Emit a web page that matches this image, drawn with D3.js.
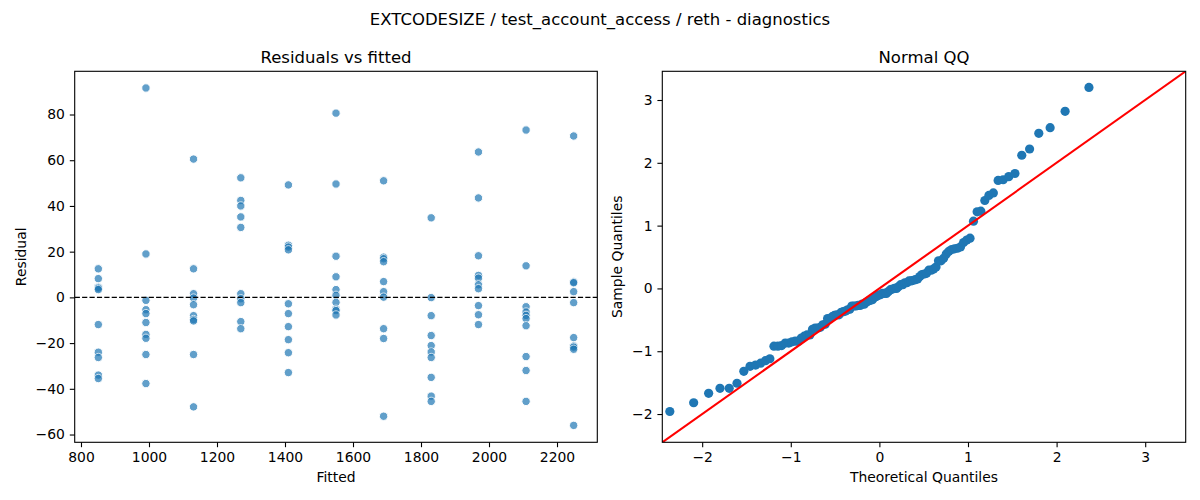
<!DOCTYPE html>
<meta charset="utf-8">
<head>
  <script src="https://d3js.org/d3.v7.min.js"></script>
  <style>
    body { margin: 0; background: #fff; }
    text { font-family: "DejaVu Sans", sans-serif; fill: #000; }
  </style>
</head>
<body>
  <div id="chart"></div>
</body>
<script>
// fitted value of each group (x of the residual plot)
var fittedGroups = [851, 991, 1131, 1270, 1410, 1550, 1690, 1830, 1969, 2109, 2249];

// residuals, one list per fitted group
var residualGroups = [
  [12.5, 8.2, 4.4, 4.0, 3.4, -11.9, -24, -26.3, -34, -35.5],
  [91.6, 19, -1.3, -5.4, -7.1, -11, -16.2, -17.9, -25, -37.7],
  [60.5, 12.5, 1.6, -0.3, -3.2, -8, -9.7, -10.3, -25, -47.9],
  [52.3, 42.4, 40, 35.2, 30.6, 1.6, -0.6, -2.3, -10.6, -13.7],
  [49.2, 22.8, 22, 20.8, -2.8, -7.1, -12.8, -18.5, -24.2, -32.9],
  [80.6, 49.6, 18, 9, 3.4, 0.9, -2.2, -5.2, -5.8, -7.7],
  [51, 17.6, 16.9, 15.6, 6.9, 2.5, 0.1, -13.7, -18, -52],
  [34.8, -0.1, -8, -16.7, -21.1, -23.9, -26.3, -35, -43.2, -45.5],
  [63.6, 43.5, 18.2, 9.6, 8.4, 5.5, 3.8, -3.6, -7.6, -11.9],
  [73.2, 13.8, -4.1, -6.4, -7.9, -9.3, -12.4, -25.9, -32, -45.5],
  [70.6, 6.7, 6.4, 2.5, -2.3, -17.6, -21.3, -21.8, -22.7, -56]
];

// QQ plot points
var theoreticalQ = [
  -2.365, -2.096, -1.927, -1.799, -1.695, -1.607, -1.530, -1.460, -1.397, -1.340,
  -1.286, -1.236, -1.190, -1.145, -1.103, -1.062, -1.023, -0.986, -0.950, -0.915,
  -0.881, -0.848, -0.816, -0.785, -0.755, -0.725, -0.696, -0.667, -0.639, -0.612,
  -0.585, -0.558, -0.532, -0.507, -0.481, -0.456, -0.431, -0.407, -0.382, -0.358,
  -0.334, -0.311, -0.287, -0.264, -0.240, -0.217, -0.194, -0.171, -0.148, -0.125,
  -0.102, -0.079, -0.056, -0.034, -0.011, 0.011, 0.034, 0.056, 0.079, 0.102,
  0.125, 0.148, 0.171, 0.194, 0.217, 0.240, 0.264, 0.287, 0.311, 0.334,
  0.358, 0.382, 0.407, 0.431, 0.456, 0.481, 0.507, 0.532, 0.558, 0.585,
  0.612, 0.639, 0.667, 0.696, 0.725, 0.755, 0.785, 0.816, 0.848, 0.881,
  0.915, 0.950, 0.986, 1.023, 1.062, 1.103, 1.145, 1.190, 1.236, 1.286,
  1.340, 1.397, 1.460, 1.530, 1.607, 1.695, 1.799, 1.927, 2.096, 2.365
];
var sampleQ = [
  -1.96, -1.82, -1.67, -1.59, -1.59, -1.51, -1.32, -1.24, -1.22, -1.19,
  -1.15, -1.12, -0.92, -0.92, -0.91, -0.87, -0.87, -0.85, -0.84, -0.84,
  -0.79, -0.76, -0.74, -0.74, -0.65, -0.63, -0.63, -0.62, -0.58, -0.57,
  -0.48, -0.48, -0.45, -0.43, -0.42, -0.42, -0.38, -0.37, -0.36, -0.34,
  -0.33, -0.28, -0.28, -0.28, -0.27, -0.27, -0.25, -0.25, -0.22, -0.20,
  -0.19, -0.18, -0.14, -0.13, -0.11, -0.10, -0.08, -0.08, -0.08, -0.05,
  -0.02, -0.01, -0.00, 0.00, 0.03, 0.06, 0.06, 0.09, 0.09, 0.12,
  0.12, 0.13, 0.14, 0.15, 0.19, 0.22, 0.23, 0.24, 0.29, 0.29,
  0.31, 0.34, 0.44, 0.44, 0.48, 0.55, 0.59, 0.62, 0.63, 0.64,
  0.66, 0.73, 0.77, 0.80, 1.07, 1.22, 1.23, 1.40, 1.48, 1.52,
  1.72, 1.73, 1.78, 1.83, 2.12, 2.22, 2.47, 2.56, 2.82, 3.20
];

var fittedTicks = [800, 1000, 1200, 1400, 1600, 1800, 2000, 2200];
var residualTicks = [-60, -40, -20, 0, 20, 40, 60, 80];
var qqTicks = [-2, -1, 0, 1, 2, 3];

var W = 1200, H = 500;
var svg = d3.select("#chart").append("svg")
  .attr("width", W).attr("height", H);

var fmt = d3.format("d");
var tickLen = 4.9, tickPad = 4.9;

// suptitle
svg.append("text")
  .attr("x", 600).attr("y", 24.5)
  .attr("text-anchor", "middle")
  .style("font-size", "16.5px")
  .text("EXTCODESIZE / test_account_access / reth - diagnostics");

function makePanel(box, xDomain, yDomain, xTicks, yTicks, title, xLabel, yLabel) {
  var g = svg.append("g");
  var x = d3.scaleLinear().domain(xDomain).range([box.left, box.right]);
  var y = d3.scaleLinear().domain(yDomain).range([box.bottom, box.top]);

  var xa = g.append("g")
    .attr("transform", "translate(0," + box.bottom + ")")
    .call(d3.axisBottom(x).tickValues(xTicks).tickFormat(fmt)
      .tickSize(tickLen).tickPadding(tickPad).tickSizeOuter(0));
  var ya = g.append("g")
    .attr("transform", "translate(" + box.left + ",0)")
    .call(d3.axisLeft(y).tickValues(yTicks).tickFormat(fmt)
      .tickSize(tickLen).tickPadding(tickPad).tickSizeOuter(0));
  [xa, ya].forEach(function (a) {
    a.select(".domain").remove();
    a.selectAll("line").attr("stroke", "#000").attr("stroke-width", 1.1);
    a.selectAll("text").style("font-size", "13.9px").attr("fill", "#000")
      .style("font-family", "DejaVu Sans, sans-serif");
  });

  g.append("text")
    .attr("x", (box.left + box.right) / 2).attr("y", box.top - 8.5)
    .attr("text-anchor", "middle")
    .style("font-size", "16.5px")
    .text(title);
  g.append("text")
    .attr("x", (box.left + box.right) / 2).attr("y", 481.5)
    .attr("text-anchor", "middle")
    .style("font-size", "13.9px")
    .text(xLabel);
  g.append("text")
    .attr("transform", "translate(" + box.ylabX + "," + ((box.top + box.bottom) / 2) + ") rotate(-90)")
    .attr("text-anchor", "middle")
    .style("font-size", "13.9px")
    .text(yLabel);

  var plot = g.append("g");
  g.append("rect")
    .attr("x", box.left).attr("y", box.top)
    .attr("width", box.right - box.left).attr("height", box.bottom - box.top)
    .attr("fill", "none").attr("stroke", "#000").attr("stroke-width", 1.1);
  return { plot: plot, x: x, y: y, box: box };
}

// ---- Residuals vs fitted
var left = makePanel(
  { left: 74.7, right: 597.3, top: 71.3, bottom: 442.3, ylabX: 26 },
  [781.5, 2318.5], [-63.4, 98.9], fittedTicks, residualTicks,
  "Residuals vs fitted", "Fitted", "Residual");

var resPoints = [];
fittedGroups.forEach(function (f, i) {
  residualGroups[i].forEach(function (r) { resPoints.push({ f: f, r: r }); });
});

var clip1 = svg.append("clipPath").attr("id", "clip1").append("rect")
  .attr("x", left.box.left).attr("y", left.box.top)
  .attr("width", left.box.right - left.box.left)
  .attr("height", left.box.bottom - left.box.top);
left.plot.attr("clip-path", "url(#clip1)");

left.plot.selectAll("circle")
  .data(resPoints)
  .enter()
  .append("circle")
  .attr("cx", function (d) { return left.x(d.f); })
  .attr("cy", function (d) { return left.y(d.r); })
  .attr("r", 4.2)
  .attr("fill", "#1f77b4")
  .attr("stroke", "#fff")
  .attr("stroke-width", 1)
  .attr("opacity", 0.7);

left.plot.append("line")
  .attr("x1", left.box.left).attr("x2", left.box.right)
  .attr("y1", left.y(0)).attr("y2", left.y(0))
  .attr("stroke", "#000").attr("stroke-width", 1.4)
  .attr("stroke-dasharray", "5.2,2.2");

// ---- Normal QQ
var qqDomain = [-2.45, 3.457];
var right = makePanel(
  { left: 662.3, right: 1185.7, top: 71.3, bottom: 442.3, ylabX: 622 },
  qqDomain, qqDomain, qqTicks, qqTicks,
  "Normal QQ", "Theoretical Quantiles", "Sample Quantiles");

svg.append("clipPath").attr("id", "clip2").append("rect")
  .attr("x", right.box.left).attr("y", right.box.top)
  .attr("width", right.box.right - right.box.left)
  .attr("height", right.box.bottom - right.box.top);
right.plot.attr("clip-path", "url(#clip2)");

right.plot.selectAll("circle")
  .data(theoreticalQ.map(function (t, i) { return { t: t, s: sampleQ[i] }; }))
  .enter()
  .append("circle")
  .attr("cx", function (d) { return right.x(d.t); })
  .attr("cy", function (d) { return right.y(d.s); })
  .attr("r", 4.6)
  .attr("fill", "#1f77b4");

right.plot.append("line")
  .attr("x1", right.x(qqDomain[0])).attr("y1", right.y(qqDomain[0]))
  .attr("x2", right.x(qqDomain[1])).attr("y2", right.y(qqDomain[1]))
  .attr("stroke", "#ff0000").attr("stroke-width", 2.1);
</script>
